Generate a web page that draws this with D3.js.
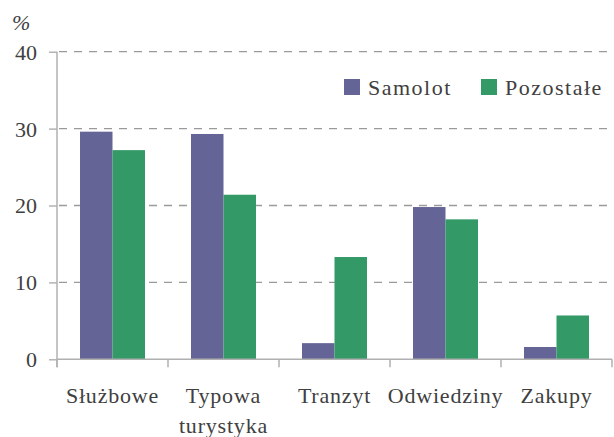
<!DOCTYPE html>
<html>
<head>
<meta charset="utf-8">
<script src="https://cdn.jsdelivr.net/npm/d3@7"></script>
<style>
  body { margin: 0; background: #fff; }
  svg { display: block; }
</style>
</head>
<body>
<svg id="chart" width="614" height="437"></svg>
<script>
const categories = [["Służbowe"], ["Typowa", "turystyka"], ["Tranzyt"], ["Odwiedziny"], ["Zakupy"]];
const seriesNames = ["Samolot", "Pozostałe"];
const samolot = [29.6, 29.3, 2.1, 19.8, 1.6];
const pozostale = [27.2, 21.4, 13.3, 18.2, 5.7];
const yTicks = [0, 10, 20, 30, 40];
const colors = ["#646496", "#339966"];

(function () {
const FONT = "'Liberation Serif', 'Times New Roman', Times, 'DejaVu Serif', serif";
const svg = d3.select("#chart");
const mLeft = 57, mRight = 612, mTop = 51.7, mBottom = 359.3;

const x = d3.scaleBand().domain(d3.range(categories.length)).range([mLeft, mRight]).padding(0);
const xs = d3.scaleBand().domain(seriesNames).range([0, x.bandwidth()]).paddingInner(0).paddingOuter(0.708);
const y = d3.scaleLinear().domain([0, 40]).range([mBottom, mTop]);

// gridlines
svg.append("g").selectAll("line").data(yTicks.filter(d => d > 0)).join("line")
  .attr("x1", mLeft).attr("x2", mRight)
  .attr("y1", d => y(d)).attr("y2", d => y(d))
  .attr("stroke", "#9a9a9a").attr("stroke-width", 1.3)
  .attr("stroke-dasharray", "8,7").attr("stroke-dashoffset", -2);

// bars
const data = categories.map((c, i) => ({ i, vals: [samolot[i], pozostale[i]] }));
const groups = svg.append("g").selectAll("g").data(data).join("g")
  .attr("transform", d => `translate(${x(d.i)},0)`);
groups.selectAll("rect").data(d => d.vals.map((v, k) => ({ v, k }))).join("rect")
  .attr("x", d => xs(seriesNames[d.k]))
  .attr("width", xs.bandwidth())
  .attr("y", d => y(d.v))
  .attr("height", d => y(0) - y(d.v))
  .attr("fill", d => colors[d.k]);

// y axis
const yAxis = d3.axisLeft(y).tickValues(yTicks).tickSize(8).tickPadding(12).tickFormat(d3.format("d"));
const gy = svg.append("g").attr("transform", `translate(${mLeft},0)`).call(yAxis)
  .attr("font-family", FONT).attr("font-size", 22);
gy.select(".domain").remove();
gy.selectAll(".tick line").attr("stroke", "#a8a8a8").attr("stroke-width", 1.3);
gy.selectAll(".tick text").attr("fill", "#404040").attr("dy", "0.34em");
svg.append("line").attr("x1", mLeft).attr("x2", mLeft).attr("y1", mTop).attr("y2", mBottom + 8)
  .attr("stroke", "#b0b0b0").attr("stroke-width", 1.5);

// x axis
const xBounds = d3.range(categories.length + 1).map(i => mLeft + i * x.step());
svg.append("line").attr("x1", mLeft).attr("x2", mRight).attr("y1", mBottom).attr("y2", mBottom)
  .attr("stroke", "#b0b0b0").attr("stroke-width", 1.5);
svg.append("g").selectAll("line").data(xBounds).join("line")
  .attr("x1", d => d).attr("x2", d => d).attr("y1", mBottom).attr("y2", mBottom + 8)
  .attr("stroke", "#b0b0b0").attr("stroke-width", 1.5);

const labels = svg.append("g").selectAll("text").data(categories).join("text")
  .attr("text-anchor", "middle")
  .attr("font-family", FONT)
  .attr("font-size", 22)
  .attr("fill", "#404040")
  .attr("letter-spacing", 0.8)
  .attr("x", (d, i) => x(i) + x.bandwidth() / 2)
  .attr("y", 403);
labels.selectAll("tspan").data(d => d).join("tspan")
  .attr("x", function () { return d3.select(this.parentNode).attr("x"); })
  .attr("dy", (d, j) => j === 0 ? 0 : 30)
  .text(d => d);

// % label
svg.append("text").attr("x", 12).attr("y", 30).attr("font-family", FONT).attr("fill", "#404040")
  .attr("font-size", 22).attr("font-style", "italic").text("%");

// legend
const legendX = [344, 481];
const lg = svg.append("g").selectAll("g").data(seriesNames).join("g")
  .attr("transform", (d, i) => `translate(${legendX[i]},79)`);
lg.append("rect").attr("width", 16).attr("height", 16).attr("fill", (d, i) => colors[i]);
lg.append("text").attr("x", 24).attr("y", 16).attr("font-family", FONT).attr("fill", "#404040")
  .attr("font-size", 22).attr("letter-spacing", 1.5).text(d => d);
})();
</script>
</body>
</html>
